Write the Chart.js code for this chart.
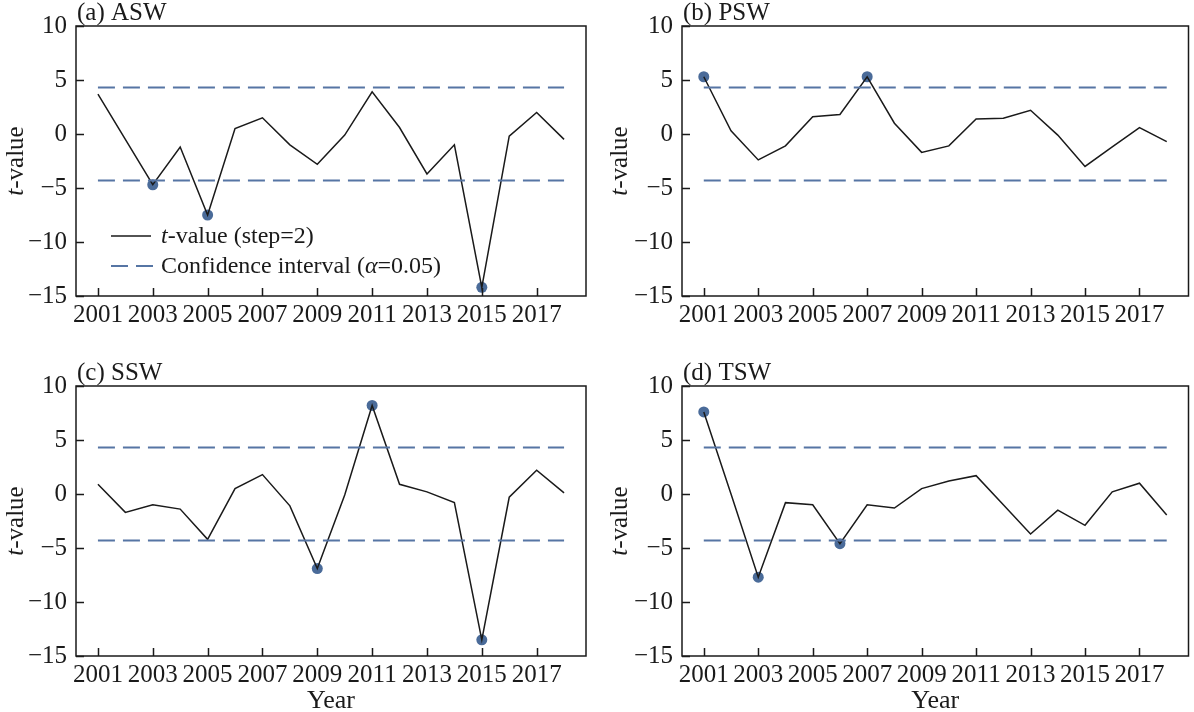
<!DOCTYPE html>
<html>
<head>
<meta charset="utf-8">
<script src="https://cdn.jsdelivr.net/npm/chart.js@4.4.1/dist/chart.umd.min.js"></script>
<style>
  body { margin: 0; background: #fff; }
  #wrap { position: relative; width: 1194px; height: 712px; }
  canvas { position: absolute; }
</style>
</head>
<body>
<div id="wrap">
  <canvas id="aswChart" width="597" height="356" style="left:0;top:0"></canvas>
  <canvas id="pswChart" width="597" height="356" style="left:597px;top:0"></canvas>
  <canvas id="sswChart" width="597" height="352" style="left:0;top:360px"></canvas>
  <canvas id="tswChart" width="597" height="352" style="left:597px;top:360px"></canvas>
</div>
<script>
// ========= DATA =================== //
const years = [2001, 2002, 2003, 2004, 2005, 2006, 2007, 2008, 2009,
  2010, 2011, 2012, 2013, 2014, 2015, 2016, 2017, 2018];
const yearTicks = [2001, 2003, 2005, 2007, 2009, 2011, 2013, 2015, 2017];
const valueTicks = [-15, -10, -5, 0, 5, 10];

const aswValues = [3.7, -0.5, -4.7, -1.2, -7.5, 0.5, 1.5, -1.0, -2.8,
  -0.1, 3.9, 0.6, -3.7, -1.0, -14.2, -0.2, 2.0, -0.5];
const pswValues = [5.3, 0.3, -2.4, -1.1, 1.6, 1.8, 5.3, 1.0, -1.7,
  -1.1, 1.4, 1.45, 2.2, -0.1, -3.0, -1.2, 0.6, -0.7];
const sswValues = [0.9, -1.7, -1.0, -1.4, -4.2, 0.5, 1.8, -1.1, -6.9,
  -0.1, 8.2, 0.9, 0.2, -0.8, -13.5, -0.3, 2.2, 0.1];
const tswValues = [7.6, 0.0, -7.7, -0.8, -1.0, -4.6, -1.0, -1.3, 0.5,
  1.2, 1.7, -1.0, -3.7, -1.5, -2.9, 0.2, 1.0, -1.95];

// years whose t-value is outside the confidence interval
const aswSignificant = [2003, 2005, 2015];
const pswSignificant = [2001, 2007];
const sswSignificant = [2009, 2011, 2015];
const tswSignificant = [2001, 2003, 2006];

const critical = 4.303; // t(0.05, df=2)

// ========= STYLE =================== //
const serif = "'Liberation Serif', 'Times New Roman', serif";
const ink = "#1a1a1a";
const blue = "rgba(74, 107, 153, 1)";
const dashBlue = "rgba(86, 117, 164, 1)";

Chart.defaults.font.family = serif;
Chart.defaults.color = ink;

// frame, inward ticks, panel label, y title and legend
const framePlugin = {
  id: "frame",
  afterDraw(chart, args, opts) {
    const { ctx, chartArea: a, scales } = chart;
    ctx.save();
    ctx.strokeStyle = ink;
    ctx.lineWidth = 1.5;
    ctx.strokeRect(a.left, a.top, a.width, a.height);

    ctx.beginPath();
    scales.x.ticks.forEach((t) => {
      const px = Math.round(scales.x.getPixelForValue(t.value)) + 0.5;
      ctx.moveTo(px, a.bottom);
      ctx.lineTo(px, a.bottom - 8);
    });
    scales.y.ticks.forEach((t) => {
      const py = Math.round(scales.y.getPixelForValue(t.value)) + 0.5;
      ctx.moveTo(a.left, py);
      ctx.lineTo(a.left + 8, py);
    });
    ctx.stroke();

    // panel label
    ctx.fillStyle = ink;
    ctx.font = "25px " + serif;
    ctx.textAlign = "left";
    ctx.textBaseline = "alphabetic";
    ctx.fillText(opts.label, a.left + 1, a.top - 6);

    // y title: italic t + "-value"
    ctx.save();
    ctx.translate(opts.titleX, (a.top + a.bottom) / 2);
    ctx.rotate(-Math.PI / 2);
    ctx.textBaseline = "middle";
    ctx.font = "italic 25px " + serif;
    const w1 = ctx.measureText("t").width;
    ctx.font = "25px " + serif;
    const w2 = ctx.measureText("-value").width;
    let x0 = -(w1 + w2) / 2;
    ctx.font = "italic 25px " + serif;
    ctx.fillText("t", x0, 0);
    ctx.font = "25px " + serif;
    ctx.fillText("-value", x0 + w1, 0);
    ctx.restore();

    if (opts.legend) {
      const lx = a.left + 35;
      const ly1 = a.top + 210;
      const ly2 = a.top + 240;
      ctx.lineWidth = 1.5;
      ctx.strokeStyle = ink;
      ctx.beginPath();
      ctx.moveTo(lx, ly1);
      ctx.lineTo(lx + 40, ly1);
      ctx.stroke();
      ctx.strokeStyle = dashBlue;
      ctx.lineWidth = 2;
      ctx.setLineDash([17, 8]);
      ctx.beginPath();
      ctx.moveTo(lx, ly2);
      ctx.lineTo(lx + 42, ly2);
      ctx.stroke();
      ctx.setLineDash([]);

      ctx.textBaseline = "middle";
      const tx = lx + 50;
      const parts1 = [["italic", "t"], ["", "-value (step=2)"]];
      const parts2 = [["", "Confidence interval ("], ["italic", "\u03b1"], ["", "=0.05)"]];
      [[parts1, ly1], [parts2, ly2]].forEach(([parts, y]) => {
        let x = tx;
        parts.forEach(([style, txt]) => {
          ctx.font = (style ? style + " " : "") + "24px " + serif;
          ctx.fillText(txt, x, y + 1);
          x += ctx.measureText(txt).width;
        });
      });
    }
    ctx.restore();
  },
};

function makeChart(id, values, significant, opts) {
  const ctx = document.getElementById(id).getContext("2d");
  return new Chart(ctx, {
    type: "scatter",
    data: {
      datasets: [
        {
          data: [{ x: years[0], y: critical }, { x: years[years.length - 1], y: critical }],
          showLine: true,
          borderColor: dashBlue,
          borderWidth: 2,
          borderDash: [17, 8],
          pointRadius: 0,
        },
        {
          data: [{ x: years[0], y: -critical }, { x: years[years.length - 1], y: -critical }],
          showLine: true,
          borderColor: dashBlue,
          borderWidth: 2,
          borderDash: [17, 8],
          pointRadius: 0,
        },
        {
          data: years.map((yr, i) => ({ x: yr, y: values[i] })),
          showLine: true,
          borderColor: ink,
          borderWidth: 1.5,
          pointRadius: 0,
        },
        {
          data: years
            .map((yr, i) => ({ x: yr, y: values[i] }))
            .filter((p) => significant.includes(p.x)),
          showLine: false,
          pointRadius: 5.5,
          pointBackgroundColor: blue,
          pointBorderWidth: 0,
        },
      ],
    },
    options: {
      responsive: false,
      animation: false,
      layout: { padding: { left: 0, right: opts.padRight, top: 26, bottom: 0 } },
      scales: {
        x: {
          type: "linear",
          min: 2000.2,
          max: 2018.8,
          afterBuildTicks: (s) => { s.ticks = yearTicks.map((v) => ({ value: v })); },
          afterFit: (s) => { s.height = opts.xHeight; },
          grid: { display: false, drawTicks: false },
          border: { display: false },
          ticks: {
            font: { size: 25 },
            color: ink,
            padding: 4,
            maxRotation: 0,
            autoSkip: false,
            callback: (v) => String(v),
          },
          title: {
            display: opts.xTitle,
            text: "Year",
            font: { size: 26, lineHeight: 0.8 },
            color: ink,
            padding: { top: 0, bottom: 0 },
          },
        },
        y: {
          min: -15,
          max: 10,
          afterBuildTicks: (s) => { s.ticks = valueTicks.map((v) => ({ value: v })); },
          afterFit: (s) => { s.width = opts.yWidth; },
          grid: { display: false, drawTicks: false },
          border: { display: false },
          ticks: {
            font: { size: 25 },
            color: ink,
            padding: 9,
            callback: (v) => (v < 0 ? "\u2212" + Math.abs(v) : String(v)),
          },
        },
      },
      plugins: {
        legend: { display: false },
        tooltip: { enabled: false },
        frame: { label: opts.label, titleX: opts.titleX, legend: opts.legend },
      },
    },
    plugins: [framePlugin],
  });
}

// ========= CHARTS =================== //
let aswChart = makeChart("aswChart", aswValues, aswSignificant, {
  label: "(a) ASW", padRight: 11, yWidth: 76, xHeight: 60, titleX: 16, legend: true, xTitle: false,
});
let pswChart = makeChart("pswChart", pswValues, pswSignificant, {
  label: "(b) PSW", padRight: 1, yWidth: 85, xHeight: 60, titleX: 23, legend: false, xTitle: false,
});
let sswChart = makeChart("sswChart", sswValues, sswSignificant, {
  label: "(c) SSW", padRight: 11, yWidth: 76, xHeight: 56, titleX: 16, legend: false, xTitle: true,
});
let tswChart = makeChart("tswChart", tswValues, tswSignificant, {
  label: "(d) TSW", padRight: 1, yWidth: 85, xHeight: 56, titleX: 23, legend: false, xTitle: true,
});
</script>
</body>
</html>
